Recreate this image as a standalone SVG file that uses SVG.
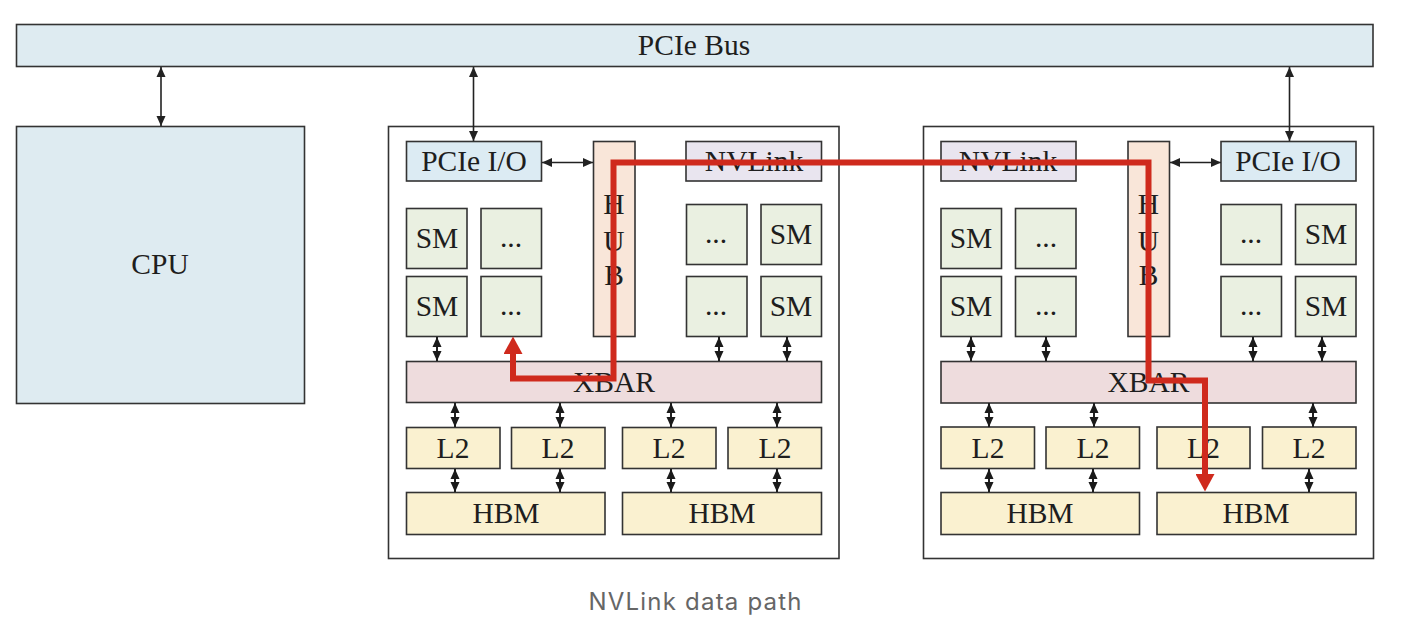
<svg xmlns="http://www.w3.org/2000/svg" width="1402" height="628" viewBox="0 0 1402 628">
<style>
.box{stroke:#333;stroke-width:1.6}
.bus{fill:#deebf1}
.pio{fill:#dcebf3}
.nvl{fill:#e9e5ef}
.hub{fill:#f9e6d9}
.sm{fill:#eaf0e1}
.xbar{fill:#eedcdd}
.mem{fill:#faf1d0}
.gpu{fill:#fff}
.t{font-family:"Liberation Serif","Times New Roman",serif;font-size:29.5px;fill:#1e1e1e;text-anchor:middle}
.ln{stroke:#222;stroke-width:1.6;fill:none}
.lns{stroke:#222;stroke-width:2;fill:none}
.big{marker-start:url(#ah);marker-end:url(#ah)}
.small{marker-start:url(#sh);marker-end:url(#sh)}
.red{stroke:#cf2a1d;stroke-width:6;fill:none;stroke-linejoin:miter;marker-start:url(#rh);marker-end:url(#rh)}
.cap{font-family:Inter,"Noto Sans","Liberation Sans",sans-serif;font-size:24px;fill:#666;text-anchor:middle}
</style>
<defs>
<marker id="ah" markerUnits="userSpaceOnUse" markerWidth="10" markerHeight="10" refX="10" refY="5" orient="auto-start-reverse" viewBox="0 0 10 10">
<path d="M0,0.5 L10,5 L0,9.5 z" fill="#222"/>
</marker>
<marker id="sh" markerUnits="userSpaceOnUse" markerWidth="10" markerHeight="10" refX="10" refY="5" orient="auto-start-reverse" viewBox="0 0 10 10">
<path d="M0,0.5 L10,5 L0,9.5 z" fill="#1a1a1a"/>
</marker>
<marker id="rh" markerUnits="userSpaceOnUse" markerWidth="18" markerHeight="19" refX="0" refY="9.5" orient="auto-start-reverse" viewBox="0 0 18 19">
<path d="M0,0 L17.5,9.5 L0,19 z" fill="#cf2a1d"/>
</marker>
</defs>
<rect width="1402" height="628" fill="#fff"/>

<g id="pcie-bus">
<rect class="box bus" x="16.5" y="24.5" width="1356.5" height="42"/>
<text class="t" x="694" y="55">PCIe Bus</text>
</g>

<g id="cpu">
<rect class="box bus" x="16.5" y="126.5" width="288" height="277"/>
<text class="t" x="160" y="274">CPU</text>
</g>

<g id="gpu1">
<rect class="box gpu" x="388.5" y="126.5" width="450.5" height="432"/>
<g id="gpu1-pcie-io"><rect class="box pio" x="406.5" y="141.5" width="135" height="39.5"/><text class="t" x="474" y="171">PCIe I/O</text></g>
<g id="gpu1-hub"><rect class="box hub" x="593.5" y="141.5" width="41.5" height="195"/>
<text class="t" x="614" y="214">H</text><text class="t" x="614" y="251">U</text><text class="t" x="614" y="285">B</text></g>
<g id="gpu1-nvlink"><rect class="box nvl" x="686" y="141.5" width="135.5" height="39.5"/><text class="t" x="754" y="171">NVLink</text></g>
<g id="gpu1-sm1"><rect class="box sm" x="406.5" y="208.5" width="60.5" height="60"/><text class="t" x="437" y="248">SM</text></g>
<g id="gpu1-sm2"><rect class="box sm" x="481" y="208.5" width="60.5" height="60"/><text class="t" x="511" y="247">...</text></g>
<g id="gpu1-sm3"><rect class="box sm" x="406.5" y="276.5" width="60.5" height="60"/><text class="t" x="437" y="316">SM</text></g>
<g id="gpu1-sm4"><rect class="box sm" x="481" y="276.5" width="60.5" height="60"/><text class="t" x="511" y="315">...</text></g>
<g id="gpu1-sm5"><rect class="box sm" x="686.5" y="204.5" width="60.5" height="60"/><text class="t" x="716" y="243">...</text></g>
<g id="gpu1-sm6"><rect class="box sm" x="761" y="204.5" width="60.5" height="60"/><text class="t" x="791" y="244">SM</text></g>
<g id="gpu1-sm7"><rect class="box sm" x="686.5" y="276.5" width="60.5" height="60"/><text class="t" x="716" y="315">...</text></g>
<g id="gpu1-sm8"><rect class="box sm" x="761" y="276.5" width="60.5" height="60"/><text class="t" x="791" y="316">SM</text></g>
<g id="gpu1-xbar"><rect class="box xbar" x="406.5" y="361.5" width="415" height="41"/><text class="t" x="614" y="392">XBAR</text></g>
<g id="gpu1-l2a"><rect class="box mem" x="406.5" y="427.5" width="93.5" height="41"/><text class="t" x="453" y="458">L2</text></g>
<g id="gpu1-l2b"><rect class="box mem" x="511.5" y="427.5" width="93.5" height="41"/><text class="t" x="558" y="458">L2</text></g>
<g id="gpu1-l2c"><rect class="box mem" x="622.5" y="427.5" width="93.5" height="41"/><text class="t" x="669" y="458">L2</text></g>
<g id="gpu1-l2d"><rect class="box mem" x="728" y="427.5" width="93.5" height="41"/><text class="t" x="775" y="458">L2</text></g>
<g id="gpu1-hbm1"><rect class="box mem" x="406.5" y="492.5" width="198.5" height="42"/><text class="t" x="506" y="523">HBM</text></g>
<g id="gpu1-hbm2"><rect class="box mem" x="622.5" y="492.5" width="199" height="42"/><text class="t" x="722" y="523">HBM</text></g>
</g>

<g id="gpu2">
<rect class="box gpu" x="923.5" y="126.5" width="450" height="432"/>
<g id="gpu2-nvlink"><rect class="box nvl" x="941" y="141.5" width="135" height="39.5"/><text class="t" x="1008" y="171">NVLink</text></g>
<g id="gpu2-hub"><rect class="box hub" x="1128" y="141.5" width="41.5" height="195"/>
<text class="t" x="1148.5" y="214">H</text><text class="t" x="1148.5" y="251">U</text><text class="t" x="1148.5" y="285">B</text></g>
<g id="gpu2-pcie-io"><rect class="box pio" x="1221" y="141.5" width="135" height="39.5"/><text class="t" x="1288" y="171">PCIe I/O</text></g>
<g id="gpu2-sm1"><rect class="box sm" x="941" y="208.5" width="60.5" height="60"/><text class="t" x="971" y="248">SM</text></g>
<g id="gpu2-sm2"><rect class="box sm" x="1015.5" y="208.5" width="60.5" height="60"/><text class="t" x="1046" y="247">...</text></g>
<g id="gpu2-sm3"><rect class="box sm" x="941" y="276.5" width="60.5" height="60"/><text class="t" x="971" y="316">SM</text></g>
<g id="gpu2-sm4"><rect class="box sm" x="1015.5" y="276.5" width="60.5" height="60"/><text class="t" x="1046" y="315">...</text></g>
<g id="gpu2-sm5"><rect class="box sm" x="1221" y="204.5" width="60.5" height="60"/><text class="t" x="1251" y="243">...</text></g>
<g id="gpu2-sm6"><rect class="box sm" x="1295.5" y="204.5" width="60.5" height="60"/><text class="t" x="1326" y="244">SM</text></g>
<g id="gpu2-sm7"><rect class="box sm" x="1221" y="276.5" width="60.5" height="60"/><text class="t" x="1251" y="315">...</text></g>
<g id="gpu2-sm8"><rect class="box sm" x="1295.5" y="276.5" width="60.5" height="60"/><text class="t" x="1326" y="316">SM</text></g>
<g id="gpu2-xbar"><rect class="box xbar" x="941" y="361.5" width="415" height="41.5"/><text class="t" x="1148.5" y="392">XBAR</text></g>
<g id="gpu2-l2a"><rect class="box mem" x="941" y="427" width="93.5" height="41.5"/><text class="t" x="988" y="458">L2</text></g>
<g id="gpu2-l2b"><rect class="box mem" x="1046" y="427" width="93.5" height="41.5"/><text class="t" x="1093" y="458">L2</text></g>
<g id="gpu2-l2c"><rect class="box mem" x="1157" y="427" width="93" height="41.5"/><text class="t" x="1203.5" y="458">L2</text></g>
<g id="gpu2-l2d"><rect class="box mem" x="1262.5" y="427" width="93.5" height="41.5"/><text class="t" x="1309" y="458">L2</text></g>
<g id="gpu2-hbm1"><rect class="box mem" x="941" y="492.5" width="198.5" height="42"/><text class="t" x="1040" y="523">HBM</text></g>
<g id="gpu2-hbm2"><rect class="box mem" x="1157" y="492.5" width="199" height="42"/><text class="t" x="1256" y="523">HBM</text></g>
</g>

<g id="connectors">
<line class="ln big" x1="161" y1="67" x2="161" y2="126"/>
<line class="ln big" x1="473.5" y1="67" x2="473.5" y2="141"/>
<line class="ln big" x1="1289.5" y1="67" x2="1289.5" y2="141"/>
<line class="ln big" x1="542" y1="162.5" x2="593" y2="162.5"/>
<line class="ln big" x1="1170" y1="162.5" x2="1221" y2="162.5"/>

<line class="lns small" x1="437" y1="337" x2="437" y2="361"/>
<line class="lns small" x1="719" y1="337" x2="719" y2="361"/>
<line class="lns small" x1="787" y1="337" x2="787" y2="361"/>
<line class="lns small" x1="455" y1="403" x2="455" y2="427"/>
<line class="lns small" x1="560" y1="403" x2="560" y2="427"/>
<line class="lns small" x1="671" y1="403" x2="671" y2="427"/>
<line class="lns small" x1="777" y1="403" x2="777" y2="427"/>
<line class="lns small" x1="455" y1="469" x2="455" y2="492"/>
<line class="lns small" x1="560" y1="469" x2="560" y2="492"/>
<line class="lns small" x1="671" y1="469" x2="671" y2="492"/>
<line class="lns small" x1="777" y1="469" x2="777" y2="492"/>

<line class="lns small" x1="971" y1="337" x2="971" y2="361"/>
<line class="lns small" x1="1046" y1="337" x2="1046" y2="361"/>
<line class="lns small" x1="1253" y1="337" x2="1253" y2="361"/>
<line class="lns small" x1="1322" y1="337" x2="1322" y2="361"/>
<line class="lns small" x1="989" y1="403" x2="989" y2="427"/>
<line class="lns small" x1="1094" y1="403" x2="1094" y2="427"/>
<line class="lns small" x1="1313" y1="403" x2="1313" y2="427"/>
<line class="lns small" x1="989" y1="469" x2="989" y2="492"/>
<line class="lns small" x1="1093" y1="469" x2="1093" y2="492"/>
<line class="lns small" x1="1309" y1="469" x2="1309" y2="492"/>

<path class="red" d="M513,354 L513,378.5 L613.5,378.5 L613.5,162.5 L1148.5,162.5 L1148.5,380.5 L1205,380.5 L1205,474"/>
</g>

<text class="cap" x="695" y="610" textLength="213" lengthAdjust="spacing">NVLink data path</text>
</svg>
